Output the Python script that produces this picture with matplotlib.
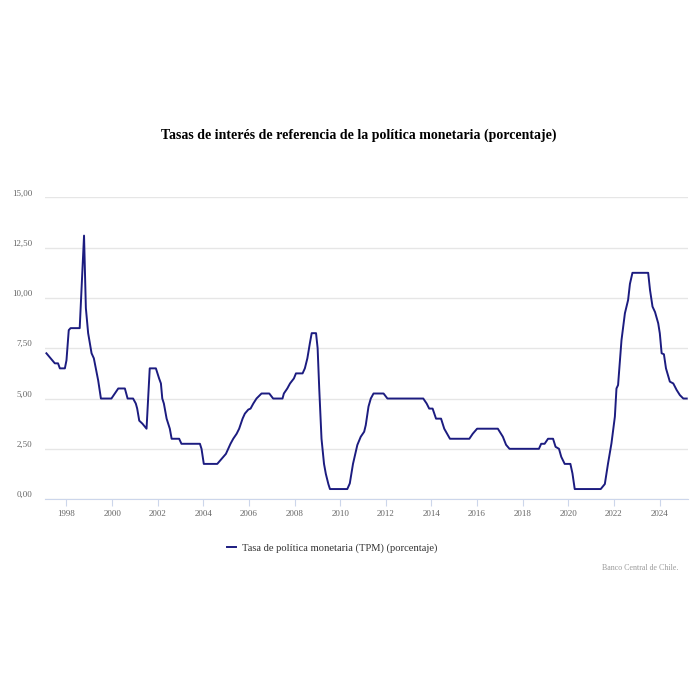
import matplotlib.pyplot as plt

# TPM, as (decimal year, percent)
fechas = [1997.12, 1997.49, 1997.63, 1997.71, 1997.93, 1998.00, 1998.10, 1998.18, 1998.58, 1998.77,
          1998.85, 1998.95, 1999.10, 1999.20, 1999.39, 1999.51, 1999.97, 2000.12, 2000.27, 2000.56,
          2000.68, 2000.92, 2001.04, 2001.10, 2001.19, 2001.33, 2001.51, 2001.65, 2001.92, 2002.06,
          2002.14, 2002.20, 2002.27, 2002.39, 2002.53, 2002.61, 2002.94, 2003.04, 2003.85, 2003.92,
          2004.02, 2004.61, 2004.80, 2004.99, 2005.09, 2005.19, 2005.31, 2005.46, 2005.57, 2005.72,
          2005.82, 2005.97, 2006.07, 2006.19, 2006.33, 2006.55, 2006.89, 2007.06, 2007.47, 2007.53,
          2007.68, 2007.80, 2007.97, 2008.06, 2008.35, 2008.45, 2008.56, 2008.67, 2008.75, 2008.94,
          2009.01, 2009.08, 2009.18, 2009.29, 2009.37, 2009.48, 2009.55, 2010.31, 2010.42, 2010.56,
          2010.75, 2010.90, 2011.05, 2011.12, 2011.24, 2011.34, 2011.46, 2011.90, 2012.07, 2013.64,
          2013.79, 2013.90, 2014.05, 2014.20, 2014.42, 2014.56, 2014.81, 2015.66, 2015.81, 2016.00,
          2016.91, 2017.13, 2017.27, 2017.42, 2018.71, 2018.81, 2018.96, 2019.11, 2019.33, 2019.44,
          2019.59, 2019.69, 2019.84, 2020.09, 2020.18, 2020.28, 2021.42, 2021.60, 2021.74, 2021.89,
          2022.04, 2022.11, 2022.18, 2022.33, 2022.48, 2022.62, 2022.70, 2022.81, 2023.50, 2023.58,
          2023.69, 2023.80, 2023.94, 2024.01, 2024.09, 2024.19, 2024.28, 2024.45, 2024.60, 2024.75,
          2024.89, 2025.04, 2025.19]
tpm = [7.25, 6.75, 6.75, 6.50, 6.50, 6.90, 8.40, 8.50, 8.50, 13.10,
       9.50, 8.25, 7.25, 7.00, 5.90, 5.00, 5.00, 5.25, 5.50, 5.50,
       5.00, 5.00, 4.75, 4.50, 3.90, 3.75, 3.50, 6.50, 6.50, 6.00,
       5.75, 5.00, 4.75, 4.00, 3.50, 3.00, 3.00, 2.75, 2.75, 2.50,
       1.75, 1.75, 2.00, 2.25, 2.50, 2.75, 3.00, 3.25, 3.50, 4.00,
       4.25, 4.45, 4.50, 4.75, 5.00, 5.25, 5.25, 5.00, 5.00, 5.25,
       5.50, 5.75, 6.00, 6.25, 6.25, 6.50, 7.00, 7.75, 8.25, 8.25,
       7.50, 5.50, 3.00, 1.75, 1.25, 0.75, 0.50, 0.50, 0.78, 1.75,
       2.69, 3.10, 3.35, 3.68, 4.60, 5.00, 5.25, 5.25, 5.00, 5.00,
       4.75, 4.50, 4.50, 4.00, 4.00, 3.50, 3.00, 3.00, 3.25, 3.50,
       3.50, 3.10, 2.70, 2.50, 2.50, 2.75, 2.75, 3.00, 3.00, 2.60,
       2.50, 2.10, 1.75, 1.75, 1.28, 0.50, 0.50, 0.75, 1.77, 2.77,
       4.10, 5.50, 5.67, 7.90, 9.24, 9.90, 10.70, 11.25, 11.25, 10.40,
       9.57, 9.30, 8.74, 8.24, 7.25, 7.20, 6.50, 5.84, 5.75, 5.42,
       5.17, 5.00, 5.00]

yticks = [0, 2.5, 5, 7.5, 10, 12.5, 15]
ylabels = ['0,00', '2,50', '5,00', '7,50', '10,00', '12,50', '15,00']
xticks = list(range(1998, 2025, 2))

plt.rcParams['font.family'] = ['Liberation Serif', 'DejaVu Serif']

fig = plt.figure(figsize=(7, 7), dpi=100)
ax = fig.add_axes([0.064, 0.287, 0.919, 0.431])

ax.plot(fechas, tpm, color='#1c1c80', lw=1.4, label='Tasa de política monetaria (TPM) (porcentaje)')

ax.set_ylim(0, 15)
ax.set_xlim(1997.05, 2025.25)
ax.set_yticks(yticks)
ax.set_yticklabels(ylabels)
ax.set_xticks(xticks)
ax.set_xticklabels([str(a) for a in xticks])

ax.grid(axis='y', color='#e6e6e6', lw=1)
ax.set_axisbelow(True)
for s in ['top', 'right', 'left']:
    ax.spines[s].set_visible(False)
ax.spines['bottom'].set_color('#ccd6eb')
ax.tick_params(axis='y', length=0, labelsize=6.5, labelcolor='#666666', pad=9)
ax.tick_params(axis='x', length=5, color='#ccd6eb', labelsize=6.5, labelcolor='#666666', pad=3)
for lab in ax.get_yticklabels():
    lab.set_verticalalignment('bottom')

fig.text(0.513, 0.807, 'Tasas de interés de referencia de la política monetaria (porcentaje)',
         ha='center', va='center', fontsize=10, fontweight='bold', color='#000000')

ax.legend(loc='center', bbox_to_anchor=(0.447, -0.163), frameon=False, fontsize=7.6,
          handlelength=0.8, handletextpad=0.6, labelcolor='#333333')

fig.text(0.969, 0.189, 'Banco Central de Chile.', ha='right', va='center', fontsize=5.7, color='#999999')

fig.savefig('out.png', dpi=100, facecolor='white')
